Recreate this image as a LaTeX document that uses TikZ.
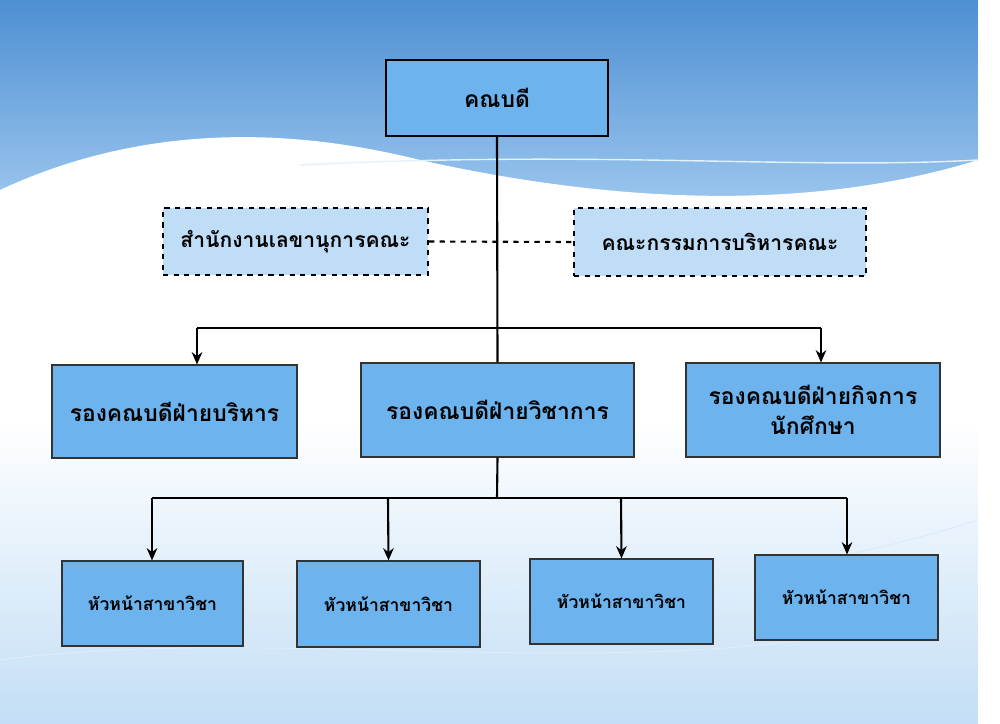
\documentclass[tikz,border=0pt]{standalone}
\usepackage{fontspec}
\newfontfamily\thaifont[Script=Thai]{Loma}
\usetikzlibrary{arrows.meta}
\definecolor{boxb}{HTML}{6DB3EE}
\definecolor{boxl}{HTML}{BFDDF6}
\definecolor{skytop}{HTML}{4E8FD3}
\definecolor{skymid}{HTML}{A9D0F2}
\tikzset{
 px/.style={x=0.02cm,y=-0.02cm},
 mainbox/.style={draw=black,line width=1.4pt,fill=boxb,font=\thaifont\bfseries\fontsize{13}{16}\selectfont,align=center},
 midbox/.style={draw=black!80,line width=0.6pt,fill=boxb,font=\thaifont\bfseries\fontsize{13}{17}\selectfont,align=center},
 dbox/.style={draw=black,dashed,line width=1.2pt,fill=boxl,font=\thaifont\bfseries\fontsize{12}{15}\selectfont,align=center},
 lowbox/.style={draw=black!80,line width=0.6pt,fill=boxb,font=\thaifont\bfseries\fontsize{10}{12}\selectfont,align=center},
 conn/.style={line width=1.2pt},
 arr/.style={line width=1.2pt,-{Stealth[length=7pt,width=6pt]}}
}
\begin{document}
\begin{tikzpicture}[px]
\useasboundingbox (0,0) rectangle (1000,723);
\fill[white] (0,0) rectangle (1000,723);
\shade[top color=skytop,bottom color=skymid] (0,0) rectangle (978,240);
\fill[white] (0,190) .. controls (150,120) and (300,130) .. (420,160) .. controls (600,200) and (800,215) .. (978,160) -- (978,723) -- (0,723) -- cycle;
\shade[top color=white,bottom color=skymid!70] (0,420) rectangle (978,723);
\fill[white] (978,0) rectangle (1000,723);
\draw[white!70!skymid,line width=0.8pt] (300,165) .. controls (600,150) and (800,170) .. (978,160);
\draw[white!60!skymid,line width=0.6pt] (0,600) .. controls (300,560) and (600,640) .. (978,520);
\draw[white!60!skymid,line width=0.6pt] (0,660) .. controls (300,620) and (700,700) .. (978,600);

\node[mainbox,minimum width=222*0.02cm,minimum height=76*0.02cm] (dean) at (497,98) {คณบดี};
\node[dbox,minimum width=265*0.02cm,minimum height=67*0.02cm] (off) at (295.5,241.5) {สำนักงานเลขานุการคณะ};
\node[dbox,minimum width=292*0.02cm,minimum height=68*0.02cm] (com) at (720,242) {คณะกรรมการบริหารคณะ};
\node[midbox,minimum width=245*0.02cm,minimum height=93*0.02cm] (v1) at (174.5,411.5) {รองคณบดีฝ่ายบริหาร};
\node[midbox,minimum width=273*0.02cm,minimum height=94*0.02cm] (v2) at (497.5,410) {รองคณบดีฝ่ายวิชาการ};
\node[midbox,minimum width=254*0.02cm,minimum height=94*0.02cm] (v3) at (813,410) {รองคณบดีฝ่ายกิจการ\\นักศึกษา};
\node[lowbox,minimum width=181*0.02cm,minimum height=85*0.02cm] (h1) at (152.5,603.5) {หัวหน้าสาขาวิชา};
\node[lowbox,minimum width=183*0.02cm,minimum height=86*0.02cm] (h2) at (388.5,604) {หัวหน้าสาขาวิชา};
\node[lowbox,minimum width=183*0.02cm,minimum height=85*0.02cm] (h3) at (621.5,601.5) {หัวหน้าสาขาวิชา};
\node[lowbox,minimum width=183*0.02cm,minimum height=85*0.02cm] (h4) at (846.5,597.5) {หัวหน้าสาขาวิชา};

\coordinate (jl) at (197,328);
\coordinate (jr) at (821,328);
\coordinate (j2) at (497,498);
\coordinate (kl) at (152,498);
\coordinate (kr) at (847,498);

\draw[conn,dashed] (off.east) -- (com.west);
\draw[conn] (dean.south) -- (v2.north);
\draw[conn] (jl) -- (jr);
\draw[arr] (jl) -- (jl|-v1.north);
\draw[arr] (jr) -- (jr|-v3.north);
\draw[conn] (v2.south) -- (j2);
\draw[conn] (kl) -- (kr);
\draw[arr] (kl) -- (kl|-h1.north);
\draw[arr] (388,498) -- (h2.north);
\draw[arr] (621,498) -- (h3.north);
\draw[arr] (kr) -- (kr|-h4.north);
\end{tikzpicture}
\end{document}
